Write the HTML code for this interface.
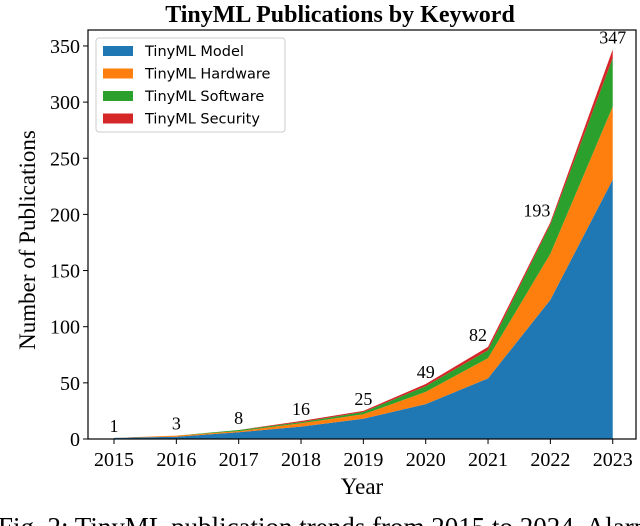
<!DOCTYPE html>
<html><head><meta charset="utf-8"><style>
html,body{margin:0;padding:0;background:#fff;width:640px;height:526px;overflow:hidden}
svg{display:block}
.serif{font-family:"Liberation Serif",serif}
.sans{font-family:"DejaVu Sans","Liberation Sans",sans-serif}
</style></head><body>
<svg width="640" height="526" id="c">
<text class="serif" x="340" y="22" font-size="24" font-weight="bold" text-anchor="middle">TinyML Publications by Keyword</text>
<g id="areas"></g>
<g id="yticks"></g>
<g id="xticks"></g>
<g id="labels"></g>
<rect x="88" y="30" width="548" height="409" fill="none" stroke="#000" stroke-width="1.2"/>
<text class="serif" x="362" y="494" font-size="23" text-anchor="middle">Year</text>
<text class="serif" transform="translate(35,240) rotate(-90)" font-size="23" text-anchor="middle">Number of Publications</text>
<g>
<rect x="96" y="38" width="189" height="94" rx="3" fill="#fff" stroke="#ccc" stroke-width="1"/>
<g id="legend"></g>
</g>
<text class="serif" x="-2" y="536" font-size="27">Fig. 2: TinyML publication trends from 2015 to 2024. Alarm</text>
</svg>
<script>
const years=[2015,2016,2017,2018,2019,2020,2021,2022,2023];
const modelVals=[1,2,6,11,18,31,54,124,231];
const hardwareVals=[0,1,1,3,4,11,18,41,65];
const softwareVals=[0,0,1,1,2,5,7,26,43];
const securityVals=[0,0,0,1,1,2,3,2,8];
const totals=[1,3,8,16,25,49,82,193,347];
const seriesNames=["TinyML Model","TinyML Hardware","TinyML Software","TinyML Security"];
const colors=["#1f77b4","#ff7f0e","#2ca02c","#d62728"];
const yTicks=[0,50,100,150,200,250,300,350];
const NS="http://www.w3.org/2000/svg";
function X(y){return 114+(y-2015)*62.34;}
function Y(v){return 439-v*1.123;}
function mk(t,a,p){const e=document.createElementNS(NS,t);for(const k in a)e.setAttribute(k,a[k]);p.appendChild(e);return e;}
const series=[modelVals,hardwareVals,softwareVals,securityVals];
let base=years.map(()=>0);
const ga=document.getElementById('areas');
series.forEach((s,i)=>{
  const top=base.map((b,j)=>b+s[j]);
  let pts=years.map((y,j)=>X(y)+','+Y(top[j]));
  pts=pts.concat(years.map((y,j)=>X(y)+','+Y(base[j])).reverse());
  const p=mk('polygon',{points:pts.join(' '),fill:colors[i]},ga);
  
  
  base=top;
});
const gy=document.getElementById('yticks');
yTicks.forEach(v=>{
  mk('line',{x1:83,x2:88,y1:Y(v),y2:Y(v),stroke:'#000'},gy);
  const t=mk('text',{x:80,y:Y(v)+7,'font-size':20,'text-anchor':'end',class:'serif'},gy);
  t.textContent=v;
  
  
});
const gx=document.getElementById('xticks');
years.forEach(y=>{
  mk('line',{x1:X(y),x2:X(y),y1:439,y2:444,stroke:'#000'},gx);
  const t=mk('text',{x:X(y),y:466,'font-size':20,'text-anchor':'middle',class:'serif'},gx);
  t.textContent=y;
  
  
});
const gl=document.getElementById('labels');
years.forEach((y,j)=>{
  const anchor=(j==6||j==7)?'end':'middle';
  const t=mk('text',{x:X(y)-(j==6?1:0),y:Y(totals[j])-6,'font-size':18,'text-anchor':anchor,class:'serif'},gl);
  t.textContent=totals[j];
  
  
});
const gleg=document.getElementById('legend');
seriesNames.forEach((n,i)=>{
  const yy=51+i*22.5;
  mk('rect',{x:103,y:yy-5,width:30,height:10,fill:colors[i]},gleg);
  const t=mk('text',{x:145,y:yy+5,'font-size':14.5,class:'sans'},gleg);
  t.textContent=n;
  
  
});
</script>
</body></html>
